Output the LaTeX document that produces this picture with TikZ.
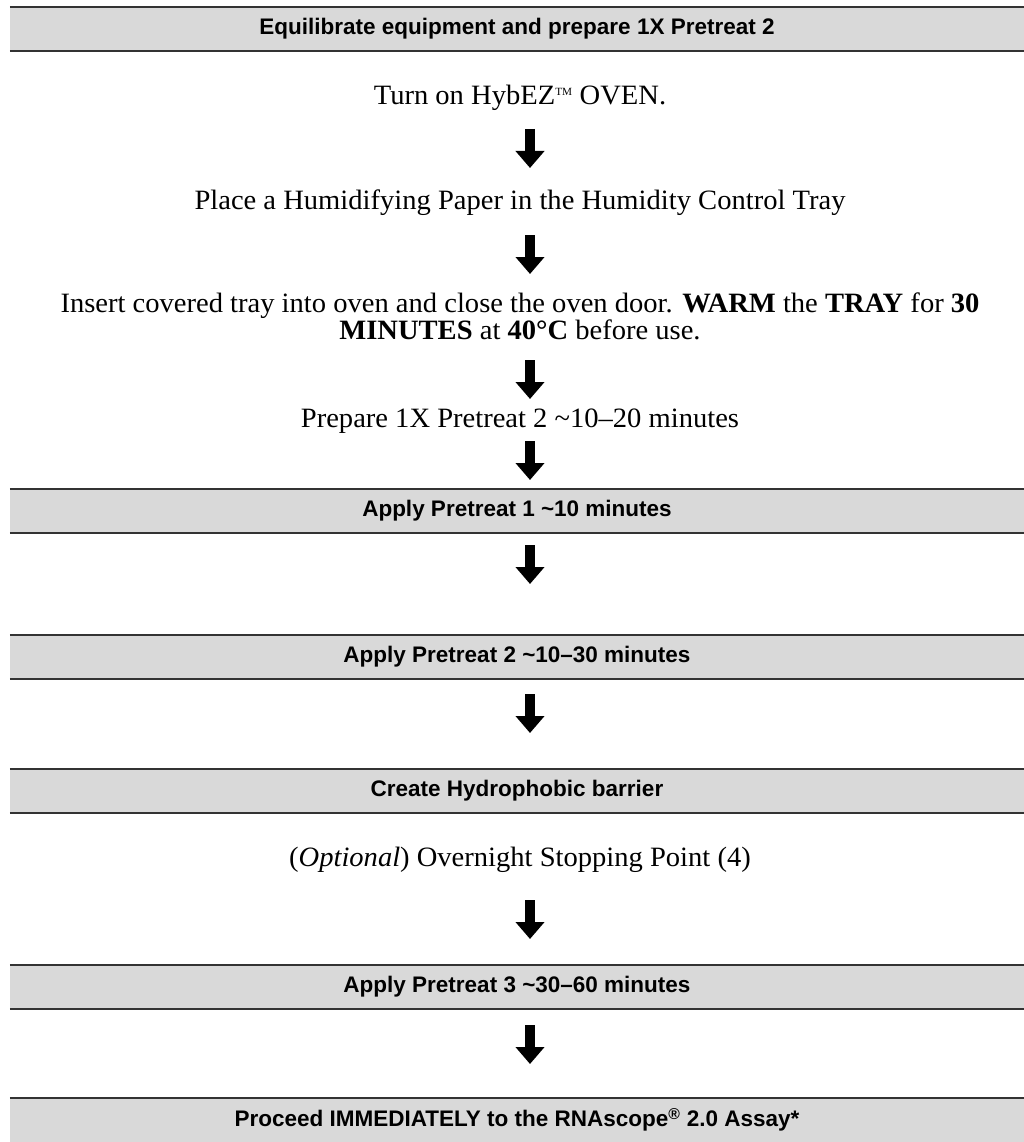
\documentclass[tikz,border=0pt]{standalone}
\usepackage{fontspec}
\setmainfont{Liberation Serif}[FakeStretch=1.02]
\newfontfamily\barfont{Liberation Sans}
\usetikzlibrary{arrows.meta}
\definecolor{barfill}{HTML}{D9D9D9}
\definecolor{barline}{HTML}{333333}
\begin{document}
\begin{tikzpicture}[x=1pt,y=-1pt,
  barbox/.style={fill=barfill, minimum width=1014pt, minimum height=44pt, inner sep=0pt,
     font=\barfont\bfseries\fontsize{22.5}{25}\selectfont, anchor=center},
  bodytext/.style={font=\fontsize{28}{25}\selectfont, align=center, inner sep=0pt, anchor=center},
  edge/.style={draw=barline, line width=1.5pt},
  blockarrow/.style={line width=10pt, -{Triangle[width=28pt,length=17pt]}}]
\useasboundingbox (0,0) rectangle (1024,1142);
% bars
\node[barbox] (b1) at (517,29) {Equilibrate equipment and prepare 1X Pretreat 2};
\node[barbox] (b2) at (517,511) {Apply Pretreat 1 \textasciitilde10 minutes};
\node[barbox] (b3) at (517,657) {Apply Pretreat 2 \textasciitilde10–30 minutes};
\node[barbox] (b4) at (517,791) {Create Hydrophobic barrier};
\node[barbox] (b5) at (517,987) {Apply Pretreat 3 \textasciitilde30–60 minutes};
\node[barbox] (b6) at (517,1120) {Proceed IMMEDIATELY to the RNAscope\textsuperscript{®} 2.0 Assay*};
\foreach \b in {b1,b2,b3,b4,b5}{
  \draw[edge] (\b.north west) -- (\b.north east);
  \draw[edge] (\b.south west) -- (\b.south east);
}
\draw[edge] (b6.north west) -- (b6.north east);
% body texts
\node[bodytext] (t1) at (520,98) {Turn on HybEZ\textsuperscript{\fontsize{11}{11}\selectfont TM} OVEN.};
\node[bodytext] (t2) at (520,203) {Place a Humidifying Paper in the Humidity Control Tray};
\node[bodytext] (t3) at (520,316) {Insert covered tray into oven and close the oven door. \textbf{WARM} the \textbf{TRAY} for \textbf{30}\\ \textbf{MINUTES} at \textbf{40°C} before use.};
\node[bodytext] (t4) at (520,421) {Prepare 1X Pretreat 2 \textasciitilde10–20 minutes};
\node[bodytext] (t5) at (520,860) {(\textit{Optional}) Overnight Stopping Point (4)};
% arrow endpoints
\coordinate (a1s) at (530,129); \coordinate (a1e) at (530,168);
\coordinate (a2s) at (530,235); \coordinate (a2e) at (530,274);
\coordinate (a3s) at (530,360); \coordinate (a3e) at (530,399);
\coordinate (a4s) at (530,441); \coordinate (a4e) at (530,480);
\coordinate (a5s) at (530,545); \coordinate (a5e) at (530,584);
\coordinate (a6s) at (530,694); \coordinate (a6e) at (530,733);
\coordinate (a7s) at (530,900); \coordinate (a7e) at (530,939);
\coordinate (a8s) at (530,1025); \coordinate (a8e) at (530,1064);
\foreach \i in {1,...,8}{\draw[blockarrow] (a\i s) -- (a\i e);}
\end{tikzpicture}
\end{document}
